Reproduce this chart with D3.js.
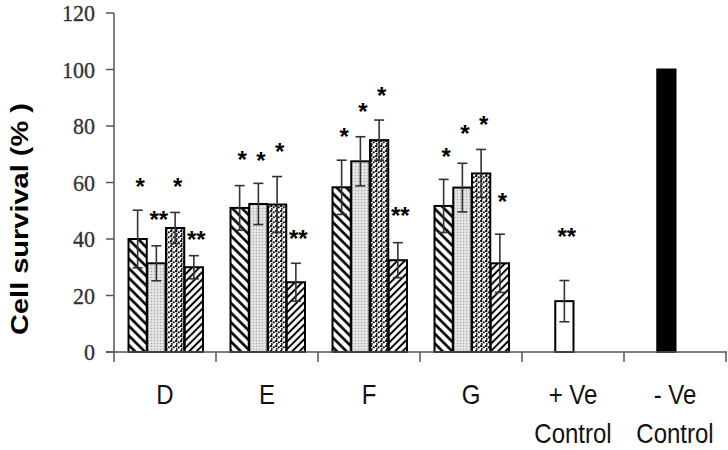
<!DOCTYPE html>
<html><head><meta charset="utf-8">
<script src="https://cdn.jsdelivr.net/npm/d3@7"></script>
<style>body{margin:0;background:#fff;} svg{display:block;} .serif{font-family:"Liberation Serif","DejaVu Serif","Times New Roman",serif;} .sans{font-family:"Liberation Sans",Arial,sans-serif;}</style>
</head><body>
<script>
// ---- data ----
const categories = ["D", "E", "F", "G", "+Ve", "-Ve"];
const categoryLabels = [["D"], ["E"], ["F"], ["G"], ["+ Ve", "Control"], ["- Ve", "Control"]];
const seriesNames = ["S1", "S2", "S3", "S4"];
const testCategories = ["D", "E", "F", "G"];
const series1 = [40.0, 51.0, 58.3, 51.7];
const series2 = [31.4, 52.4, 67.5, 58.2];
const series3 = [43.9, 52.2, 75.0, 63.2];
const series4 = [30.0, 24.7, 32.5, 31.4];
const err1 = [10.2, 7.9, 9.6, 9.4];
const err2 = [6.2, 7.3, 8.7, 8.6];
const err3 = [5.5, 9.9, 7.1, 8.5];
const err4 = [4.1, 6.7, 6.2, 10.3];
const stars1 = ["*", "*", "*", "*"];
const stars2 = ["**", "*", "*", "*"];
const stars3 = ["*", "*", "*", "*"];
const stars4 = ["**", "**", "**", "*"];
const starLevel1 = [59.7, 69.4, 77.5, 70.5];
const starLevel2 = [48.2, 68.9, 86.4, 78.6];
const starLevel3 = [59.8, 72.1, 92.0, 81.9];
const starLevel4 = [41.1, 41.4, 49.6, 54.5];
const controlValues = [18.0, 100.0];      // +Ve, -Ve
const controlErr = [7.3, 0];
const controlStars = ["**", ""];
const controlStarLevel = [42.1, 0];
const yTicks = [0, 20, 40, 60, 80, 100, 120];

// ---- layout ----
const W = 728, H = 450;
const svg = d3.select("body").append("svg").attr("width", W).attr("height", H);
const x0 = d3.scaleBand().domain(categories).range([114, 726]).paddingInner(0.265).paddingOuter(0.1325);
const x1 = d3.scaleBand().domain(seriesNames).range([0, x0.bandwidth()]);
const y = d3.scaleLinear().domain([0, 120]).range([352, 13]);

// ---- patterns ----
const defs = svg.append("defs");
function hatch(id, size, angle, sw) {
  const p = defs.append("pattern").attr("id", id).attr("patternUnits", "userSpaceOnUse")
    .attr("width", size).attr("height", size).attr("patternTransform", `rotate(${angle})`);
  p.append("rect").attr("width", size).attr("height", size).attr("fill", "#fff");
  p.append("line").attr("x1", size / 2).attr("x2", size / 2).attr("y1", -1).attr("y2", size + 1)
    .attr("stroke", "#000").attr("stroke-width", sw);
}
hatch("p1", 6.8, -45, 2.6);
hatch("p4", 5.2, 45, 2.0);
const p2 = defs.append("pattern").attr("id", "p2").attr("patternUnits", "userSpaceOnUse").attr("width", 3).attr("height", 3);
p2.append("rect").attr("width", 3).attr("height", 3).attr("fill", "#e4e4e4");
p2.append("circle").attr("cx", 1.5).attr("cy", 1.5).attr("r", 0.7).attr("fill", "#a8a8a8");
const p3 = defs.append("pattern").attr("id", "p3").attr("patternUnits", "userSpaceOnUse").attr("width", 5).attr("height", 5);
p3.append("rect").attr("width", 5).attr("height", 5).attr("fill", "#fff");
p3.append("circle").attr("cx", 1.2).attr("cy", 1.0).attr("r", 1.25).attr("fill", "#111");
p3.append("circle").attr("cx", 3.8).attr("cy", 2.3).attr("r", 1.1).attr("fill", "#111");
p3.append("circle").attr("cx", 1.8).attr("cy", 4.0).attr("r", 1.0).attr("fill", "#111");
const fills = ["url(#p1)", "url(#p2)", "url(#p3)", "url(#p4)"];

// ---- assemble records ----
const vals = [series1, series2, series3, series4];
const errs = [err1, err2, err3, err4];
const stars = [stars1, stars2, stars3, stars4];
const starLv = [starLevel1, starLevel2, starLevel3, starLevel4];
const bars = [];
testCategories.forEach((c, i) => {
  seriesNames.forEach((s, j) => {
    bars.push({cat: c, s, v: vals[j][i], e: errs[j][i], star: stars[j][i], sl: starLv[j][i], fill: fills[j]});
  });
});
["+Ve", "-Ve"].forEach((c, i) => {
  bars.push({cat: c, s: "S2", v: controlValues[i], e: controlErr[i], star: controlStars[i], sl: controlStarLevel[i],
    fill: i === 0 ? "#fff" : "#000"});
});

// ---- bars ----
const g = svg.append("g");
g.selectAll("rect.bar").data(bars).join("rect").attr("class", "bar")
  .attr("x", d => x0(d.cat) + x1(d.s) + 1)
  .attr("y", d => y(d.v))
  .attr("width", x1.bandwidth() - 0.5)
  .attr("height", d => y(0) - y(d.v))
  .attr("fill", d => d.fill).attr("stroke", "#000").attr("stroke-width", 2);

// ---- error bars ----
const eb = bars.filter(d => d.e > 0);
const cx = d => x0(d.cat) + x1(d.s) + 1 + (x1.bandwidth() - 0.5) / 2;
g.selectAll("line.ev").data(eb).join("line")
  .attr("x1", cx).attr("x2", cx).attr("y1", d => y(d.v - d.e)).attr("y2", d => y(d.v + d.e))
  .attr("stroke", "#333").attr("stroke-width", 1.6);
["+", "-"].forEach(sgn => {
  g.selectAll(null).data(eb).join("line")
    .attr("x1", d => cx(d) - 5).attr("x2", d => cx(d) + 5)
    .attr("y1", d => y(d.v + (sgn === "+" ? d.e : -d.e))).attr("y2", d => y(d.v + (sgn === "+" ? d.e : -d.e)))
    .attr("stroke", "#333").attr("stroke-width", 1.6);
});

// ---- stars ----
g.selectAll("text.star").data(bars.filter(d => d.star)).join("text")
  .attr("class", "sans")
  .attr("x", d => cx(d) + 2.5).attr("y", d => y(d.sl) + 12)
  .attr("text-anchor", "middle")
  .attr("font-size", 24).attr("font-weight", "bold").attr("fill", "#000").text(d => d.star);

// ---- axes ----
const axisColor = "#555";
svg.append("line").attr("x1", 114).attr("x2", 114).attr("y1", y(120)).attr("y2", y(0)).attr("stroke", axisColor).attr("stroke-width", 1.5);
svg.append("line").attr("x1", 106).attr("x2", 727).attr("y1", y(0)).attr("y2", y(0)).attr("stroke", axisColor).attr("stroke-width", 1.5);
svg.selectAll("line.yt").data(yTicks).join("line")
  .attr("x1", 106).attr("x2", 114).attr("y1", d => y(d)).attr("y2", d => y(d)).attr("stroke", axisColor).attr("stroke-width", 1.5);
const bounds = categories.map(c => x0(c) - x0.step() * x0.paddingInner() / 2).concat([x0(categories[categories.length - 1]) + x0.bandwidth() + x0.step() * x0.paddingInner() / 2]);
svg.selectAll("line.xt").data(bounds).join("line")
  .attr("x1", d => d).attr("x2", d => d).attr("y1", y(0)).attr("y2", y(0) + 10).attr("stroke", axisColor).attr("stroke-width", 1.5);

// y tick labels
svg.selectAll("g.ytl").data(yTicks).join("g")
  .attr("transform", d => `translate(95,${y(d) + 8.3}) scale(1,1.05)`)
  .append("text").attr("class", "serif").attr("text-anchor", "end")
  .attr("font-size", 22).attr("fill", "#333").attr("stroke", "#333").attr("stroke-width", 0.3).text(d => d);

// x labels
categories.forEach((c, i) => {
  const xc = x0(c) + x0.bandwidth() / 2;
  categoryLabels[i].forEach((t, k) => {
    svg.append("g").attr("transform", `translate(${xc},${404 + k * 38.7}) scale(1,1.18)`)
      .append("text").attr("class", "sans").attr("text-anchor", "middle")
      .attr("font-size", 24).attr("fill", "#111").text(t);
  });
});

// y axis title
svg.append("g").attr("transform", "translate(28,219) scale(1,1.26) rotate(-90)")
  .append("text").attr("class", "sans").attr("text-anchor", "middle")
  .attr("font-size", 23).attr("font-weight", "bold").attr("fill", "#000").text("Cell survival (% )");
</script>
</body></html>
